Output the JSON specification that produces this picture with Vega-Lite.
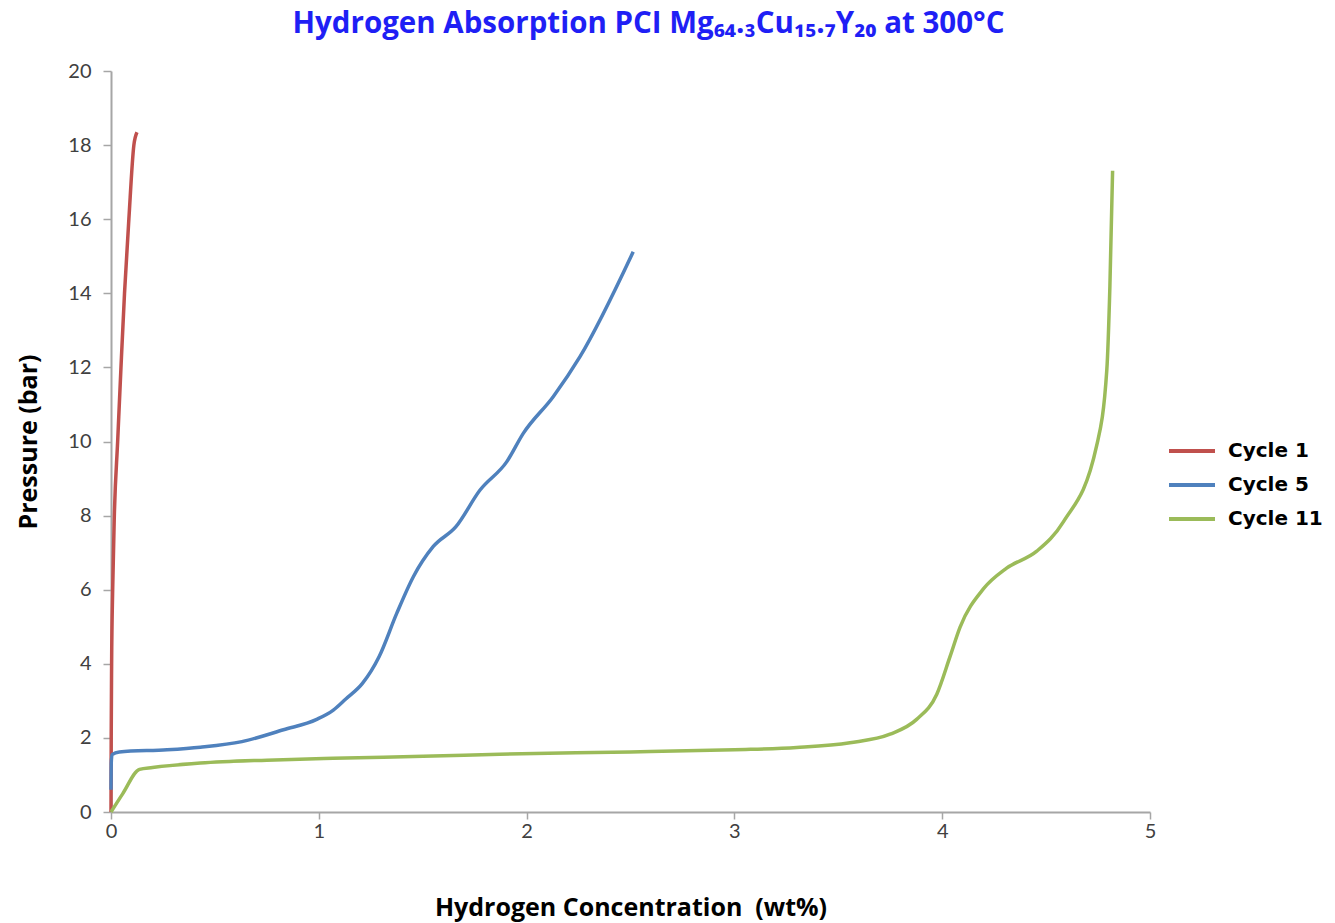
{
  "$schema": "https://vega.github.io/schema/vega-lite/v6.json",
  "autosize": {"type": "none"},
  "padding": {"left": 111, "top": 71, "right": 185, "bottom": 111},
  "width": 1039,
  "height": 741,
  "background": "white",
  "title": {
    "text": "Hydrogen Absorption PCI Mg₆₄.₃Cu₁₅.₇Y₂₀ at 300°C",
    "font": "Open Sans",
    "fontSize": 29.5,
    "fontWeight": "bold",
    "color": "#1F1FF5",
    "anchor": "middle",
    "dx": 18,
    "offset": 22
  },
  "data": {
    "values": [
      {"s": "Cycle 1", "i": 0, "x": 0, "y": 0},
      {"s": "Cycle 1", "i": 1, "x": 0.001, "y": 2},
      {"s": "Cycle 1", "i": 2, "x": 0.003, "y": 4},
      {"s": "Cycle 1", "i": 3, "x": 0.008, "y": 6},
      {"s": "Cycle 1", "i": 4, "x": 0.016, "y": 8},
      {"s": "Cycle 1", "i": 5, "x": 0.032, "y": 10},
      {"s": "Cycle 1", "i": 6, "x": 0.048, "y": 12},
      {"s": "Cycle 1", "i": 7, "x": 0.065, "y": 14},
      {"s": "Cycle 1", "i": 8, "x": 0.086, "y": 16},
      {"s": "Cycle 1", "i": 9, "x": 0.11, "y": 18},
      {"s": "Cycle 1", "i": 10, "x": 0.125, "y": 18.35},
      {"s": "Cycle 5", "i": 0, "x": 0, "y": 0.6},
      {"s": "Cycle 5", "i": 1, "x": 0.001, "y": 1.3},
      {"s": "Cycle 5", "i": 2, "x": 0.005, "y": 1.55},
      {"s": "Cycle 5", "i": 3, "x": 0.04, "y": 1.62},
      {"s": "Cycle 5", "i": 4, "x": 0.27, "y": 1.68},
      {"s": "Cycle 5", "i": 5, "x": 0.43, "y": 1.75},
      {"s": "Cycle 5", "i": 6, "x": 0.63, "y": 1.9},
      {"s": "Cycle 5", "i": 7, "x": 0.83, "y": 2.22},
      {"s": "Cycle 5", "i": 8, "x": 0.99, "y": 2.5},
      {"s": "Cycle 5", "i": 9, "x": 1.07, "y": 2.75},
      {"s": "Cycle 5", "i": 10, "x": 1.13, "y": 3.05},
      {"s": "Cycle 5", "i": 11, "x": 1.21, "y": 3.47},
      {"s": "Cycle 5", "i": 12, "x": 1.29, "y": 4.19},
      {"s": "Cycle 5", "i": 13, "x": 1.375, "y": 5.36},
      {"s": "Cycle 5", "i": 14, "x": 1.455, "y": 6.35},
      {"s": "Cycle 5", "i": 15, "x": 1.55, "y": 7.16},
      {"s": "Cycle 5", "i": 16, "x": 1.66, "y": 7.7},
      {"s": "Cycle 5", "i": 17, "x": 1.776, "y": 8.69},
      {"s": "Cycle 5", "i": 18, "x": 1.904, "y": 9.45},
      {"s": "Cycle 5", "i": 19, "x": 1.984, "y": 10.22},
      {"s": "Cycle 5", "i": 20, "x": 2.128, "y": 11.21},
      {"s": "Cycle 5", "i": 21, "x": 2.257, "y": 12.29},
      {"s": "Cycle 5", "i": 22, "x": 2.513, "y": 15.12},
      {"s": "Cycle 11", "i": 0, "x": 0, "y": 0},
      {"s": "Cycle 11", "i": 1, "x": 0.056, "y": 0.49},
      {"s": "Cycle 11", "i": 2, "x": 0.137, "y": 1.15},
      {"s": "Cycle 11", "i": 3, "x": 0.2, "y": 1.2},
      {"s": "Cycle 11", "i": 4, "x": 0.43, "y": 1.32},
      {"s": "Cycle 11", "i": 5, "x": 0.75, "y": 1.4},
      {"s": "Cycle 11", "i": 6, "x": 1.07, "y": 1.45},
      {"s": "Cycle 11", "i": 7, "x": 1.55, "y": 1.51},
      {"s": "Cycle 11", "i": 8, "x": 1.87, "y": 1.56},
      {"s": "Cycle 11", "i": 9, "x": 2.5, "y": 1.62},
      {"s": "Cycle 11", "i": 10, "x": 3.0, "y": 1.68},
      {"s": "Cycle 11", "i": 11, "x": 3.3, "y": 1.74},
      {"s": "Cycle 11", "i": 12, "x": 3.556, "y": 1.87},
      {"s": "Cycle 11", "i": 13, "x": 3.749, "y": 2.1},
      {"s": "Cycle 11", "i": 14, "x": 3.877, "y": 2.5},
      {"s": "Cycle 11", "i": 15, "x": 3.974, "y": 3.18},
      {"s": "Cycle 11", "i": 16, "x": 4.038, "y": 4.2},
      {"s": "Cycle 11", "i": 17, "x": 4.086, "y": 4.99},
      {"s": "Cycle 11", "i": 18, "x": 4.198, "y": 6.02},
      {"s": "Cycle 11", "i": 19, "x": 4.31, "y": 6.58},
      {"s": "Cycle 11", "i": 20, "x": 4.455, "y": 7.04},
      {"s": "Cycle 11", "i": 21, "x": 4.583, "y": 7.83},
      {"s": "Cycle 11", "i": 22, "x": 4.743, "y": 9.88},
      {"s": "Cycle 11", "i": 23, "x": 4.792, "y": 11.92},
      {"s": "Cycle 11", "i": 24, "x": 4.807, "y": 14.19},
      {"s": "Cycle 11", "i": 25, "x": 4.82, "y": 17.31}
    ]
  },
  "mark": {"type": "line", "interpolate": "monotone", "strokeWidth": 3.5, "clip": false},
  "encoding": {
    "x": {
      "field": "x",
      "type": "quantitative",
      "scale": {"domain": [0, 5], "nice": false, "zero": false},
      "axis": {
        "title": "Hydrogen Concentration\u00a0 (wt%)",
        "values": [0, 1, 2, 3, 4, 5],
        "grid": false,
        "labelFlush": false,
        "domainColor": "#A6A6A6",
        "domainWidth": 2,
        "tickColor": "#A6A6A6",
        "tickWidth": 1.5,
        "tickSize": 7,
        "labelFont": "Lato",
        "labelFontSize": 20,
        "labelColor": "#404040",
        "labelPadding": 2,
        "titleFont": "Open Sans",
        "titleFontSize": 25,
        "titleFontWeight": "bold",
        "titleColor": "#000000",
        "titlePadding": 54
      }
    },
    "y": {
      "field": "y",
      "type": "quantitative",
      "scale": {"domain": [0, 20], "nice": false, "zero": false},
      "axis": {
        "title": "Pressure (bar)",
        "values": [0, 2, 4, 6, 8, 10, 12, 14, 16, 18, 20],
        "grid": false,
        "labelFlush": false,
        "domainColor": "#A6A6A6",
        "domainWidth": 2,
        "tickColor": "#A6A6A6",
        "tickWidth": 1.5,
        "tickSize": 8,
        "labelFont": "Lato",
        "labelFontSize": 20,
        "labelColor": "#404040",
        "labelPadding": 12,
        "titleFont": "Open Sans",
        "titleFontSize": 25,
        "titleFontWeight": "bold",
        "titleColor": "#000000",
        "titlePadding": 26
      }
    },
    "color": {
      "field": "s",
      "type": "nominal",
      "sort": ["Cycle 1", "Cycle 5", "Cycle 11"],
      "scale": {"domain": ["Cycle 1", "Cycle 5", "Cycle 11"], "range": ["#C0504D", "#4F81BD", "#9BBB59"]},
      "legend": {
        "title": null,
        "orient": "none",
        "legendX": 1069,
        "legendY": 368,
        "symbolType": "M-2.3,0H2.3",
        "symbolSize": 400,
        "symbolStrokeWidth": 4,
        "labelFont": "DejaVu Sans",
        "labelFontSize": 20,
        "labelFontWeight": "bold",
        "labelColor": "#000000",
        "labelOffset": 24,
        "rowPadding": 12
      }
    },
    "order": {"field": "i", "type": "quantitative"}
  },
  "config": {"view": {"stroke": null}}
}
